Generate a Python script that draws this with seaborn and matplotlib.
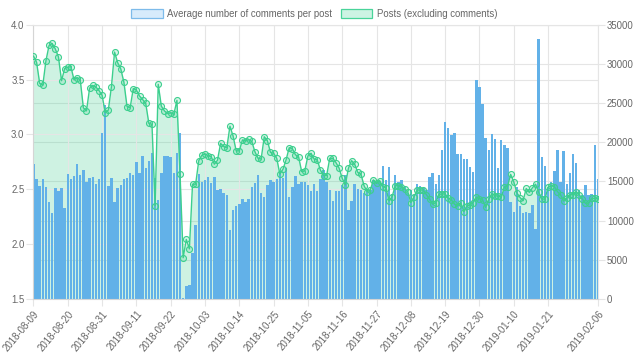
import numpy as np
import pandas as pd
import matplotlib
matplotlib.use("Agg")
import matplotlib.pyplot as plt
import seaborn as sns
from matplotlib.patches import Patch

# ---------------- data ----------------
start_date = "2018-08-09"
end_date = "2019-02-06"

avg_comments = [
    2.73, 2.59, 2.53, 2.59, 2.52, 2.38, 2.28, 2.51, 2.48, 2.51,
    2.33, 2.64, 2.59, 2.62, 2.73, 2.63, 2.68, 2.57, 2.60, 2.61,
    2.55, 2.59, 3.01, 3.27, 2.53, 2.60, 2.38, 2.51, 2.54, 2.59,
    2.60, 2.65, 2.63, 2.75, 2.65, 2.80, 2.69, 2.76, 2.83, 2.60,
    2.40, 2.65, 2.80, 2.80, 2.79, 2.65, 2.83, 3.01, 1.51, 1.62,
    1.63, 1.92, 2.17, 2.64, 2.57, 2.58, 2.61, 2.56, 2.61, 2.49,
    2.50, 2.47, 2.45, 2.13, 2.31, 2.35, 2.37, 2.41, 2.38, 2.41,
    2.52, 2.56, 2.63, 2.47, 2.43, 2.54, 2.58, 2.57, 2.59, 2.65,
    2.60, 2.69, 2.43, 2.52, 2.62, 2.55, 2.57, 2.57, 2.54, 2.48,
    2.55, 2.48, 2.59, 2.68, 2.57, 2.49, 2.39, 2.48, 2.48, 2.54,
    2.63, 2.31, 2.39, 2.55, 2.50, 2.49, 2.47, 2.48, 2.49, 2.58,
    2.57, 2.57, 2.71, 2.58, 2.70, 2.46, 2.63, 2.57, 2.58, 2.52,
    2.47, 2.49, 2.45, 2.55, 2.53, 2.51, 2.49, 2.61, 2.65, 2.55,
    2.63, 2.86, 3.11, 3.06, 2.99, 3.01, 2.82, 2.82, 2.78, 2.78,
    2.70, 2.66, 3.50, 3.43, 3.28, 2.97, 2.86, 3.00, 2.96, 2.69,
    2.95, 2.90, 2.88, 2.38, 2.29, 2.52, 2.35, 2.28, 2.29, 2.28,
    2.36, 2.14, 3.87, 2.79, 2.71, 2.52, 2.57, 2.67, 2.86, 2.57,
    2.85, 2.55, 2.65, 2.82, 2.74, 2.49, 2.45, 2.54, 2.45, 2.46,
    2.90, 2.59,
]

posts = [
    31000, 30200, 27500, 27300, 30400, 32350, 32600, 31900, 30900, 27850,
    29400, 29550, 29650, 27950, 28250, 27950, 24400, 24000, 26900, 27250,
    27050, 26600, 26000, 23750, 24100, 27100, 31500, 30150, 29350, 27650,
    24550, 24400, 26850, 26650, 25900, 25450, 24950, 22400, 22300, 11900,
    27400, 24600, 24000, 23650, 23750, 23550, 25350, 15900, 5270, 7600,
    6400, 14650, 14650, 17650, 18350, 18500, 18300, 18150, 17200, 17700,
    19850, 19450, 19300, 22050, 20800, 18900, 18900, 20300, 20150, 20350,
    20100, 18800, 17950, 17850, 20700, 20200, 18700, 18600, 17950, 15950,
    16550, 17750, 19300, 19200, 18400, 18150, 16250, 16350, 18250, 18600,
    17850, 17750, 16450, 15750, 15750, 17950, 17950, 17400, 16700, 15400,
    14550, 16700, 17650, 17200, 16150, 15950, 14450, 13700, 13900, 15200,
    14750, 15100, 14350, 14200, 12500, 13050, 14450, 14450, 14350, 14050,
    13700, 12300, 13000, 13900, 13900, 13900, 13300, 12750, 12100, 12300,
    13350, 13400, 13400, 12850, 12650, 12100, 11900, 12300, 11150, 11900,
    12000, 12300, 13000, 12800, 12650, 11700, 12700, 13450, 13200, 13100,
    13000, 14300, 14350, 15900, 14950, 13550, 12950, 12550, 14100, 13600,
    14200, 14650, 13600, 12750, 12750, 14250, 14450, 14350, 13700, 13300,
    12500, 12850, 13300, 13300, 13700, 13300, 12750, 12200, 12200, 12850,
    12850, 12750,
]

tick_labels = [
    "2018-08-09", "2018-08-20", "2018-08-31", "2018-09-11", "2018-09-22",
    "2018-10-03", "2018-10-14", "2018-10-25", "2018-11-05", "2018-11-16",
    "2018-11-27", "2018-12-08", "2018-12-19", "2018-12-30", "2019-01-10",
    "2019-01-21", "2019-02-06",
]
left_ticks = [1.5, 2.0, 2.5, 3.0, 3.5, 4.0]
right_ticks = [0, 5000, 10000, 15000, 20000, 25000, 30000, 35000]

series_names = ["Average number of comments per post", "Posts (excluding comments)"]

# ---------------- styling ----------------
sns.set_theme(style="white")
plt.rcParams["font.family"] = ["Liberation Sans", "DejaVu Sans"]

FS = 6.9
TXT = "#666666"
GRID = "#e5e5e5"
BAR = "#62b1e8"
GREEN = "#3ccf8e"

dates = pd.date_range(start_date, end_date, freq="D")
df = pd.DataFrame({
    "idx": np.arange(len(dates)),
    "date": dates,
    "avg": avg_comments,
    "posts": posts,
})
tick_pos = dates.get_indexer(pd.to_datetime(tick_labels))

fig = plt.figure(figsize=(6.4, 3.61), dpi=100)
fig.patch.set_facecolor("white")
rect = [0.0523, 0.1717, 0.882, 0.760]
ax_bar = fig.add_axes(rect)
ax_fill = ax_bar.twinx()
ax_line = ax_bar.twinx()

ax_fill.set_zorder(0)
ax_bar.set_zorder(1)
ax_line.set_zorder(2)
for a in (ax_bar, ax_fill, ax_line):
    a.patch.set_visible(False)

# area fill of posts (right scale)
ax_fill.fill_between(df["idx"], df["posts"], 0, color=GREEN, alpha=0.25, lw=0, zorder=1)
ax_fill.set_ylim(0, 35000)
ax_fill.set_yticks(right_ticks)
ax_fill.set_yticklabels([str(v) for v in right_ticks])
ax_fill.grid(axis="y", color=GRID, lw=0.8, zorder=0)
ax_fill.set_axisbelow(True)

# bars (left scale)
sns.barplot(data=df, x="idx", y="avg", ax=ax_bar, color=BAR, saturation=1,
            width=0.78, native_scale=True, errorbar=None, linewidth=0, zorder=2)
ax_bar.set_ylim(1.5, 4.0)
ax_bar.set_yticks(left_ticks)
ax_bar.set_yticklabels([f"{v:.1f}" for v in left_ticks])
ax_bar.set_axisbelow(True)
ax_bar.grid(axis="both", color=GRID, lw=0.8)

# line (right scale)
sns.lineplot(data=df, x="idx", y="posts", ax=ax_line, color=GREEN, lw=1.0,
             marker="o", markersize=4.3, markeredgecolor=GREEN,
             markerfacecolor=(60/255, 207/255, 142/255, 0.2), markeredgewidth=0.8)
ax_line.set_ylim(0, 35000)
ax_line.axis("off")

xmin, xmax = 0, len(dates) - 1
for a in (ax_bar, ax_fill, ax_line):
    a.set_xlim(xmin, xmax)

ax_bar.set_xticks(tick_pos)
ax_bar.set_xticklabels(tick_labels, rotation=50, ha="right", rotation_mode="anchor")

for a in (ax_bar, ax_fill):
    a.set_xlabel("")
    a.set_ylabel("")
ax_bar.tick_params(axis="both", labelsize=FS, labelcolor=TXT, color=GRID,
                   length=5, width=0.8, pad=1.5, left=True, bottom=True)
ax_bar.tick_params(axis="x", pad=2)
ax_fill.tick_params(axis="y", labelsize=FS, labelcolor=TXT, color=GRID,
                    length=5, width=0.8, pad=1.5, right=True)

for a in (ax_fill, ax_line):
    for s in a.spines.values():
        s.set_visible(False)
for name, s in ax_bar.spines.items():
    s.set_visible(True)
    s.set_color("#d5d5d5" if name in ("left", "bottom") else GRID)
    s.set_linewidth(0.8)

handles = [
    Patch(facecolor="#d7ebfb", edgecolor="#7dbbea", lw=0.9),
    Patch(facecolor="#cdf3e3", edgecolor="#49d49a", lw=0.9),
]
leg = fig.legend(handles, series_names, loc="center", bbox_to_anchor=(0.491, 0.962),
                 ncol=2, frameon=False, fontsize=FS, handlelength=3.3, handleheight=1.0,
                 handletextpad=0.5, columnspacing=0.85, borderaxespad=0)
for t in leg.get_texts():
    t.set_color(TXT)

fig.savefig("out.png", dpi=100, facecolor="white")
